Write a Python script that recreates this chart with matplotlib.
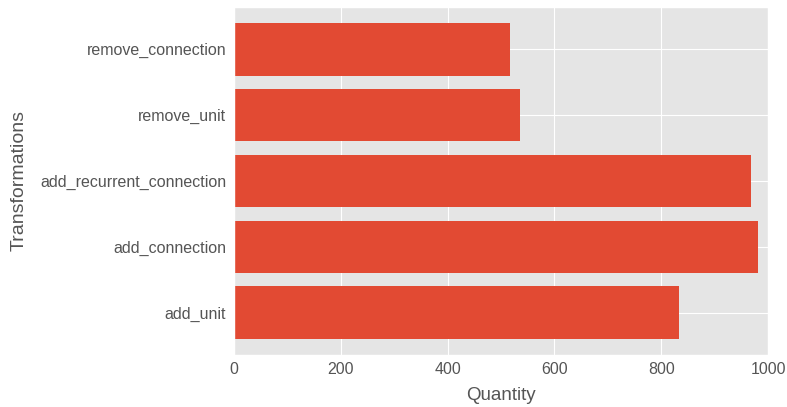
import matplotlib
matplotlib.use("Agg")
import matplotlib.pyplot as plt

plt.style.use("ggplot")
plt.rcParams["font.family"] = ["Liberation Sans", "DejaVu Sans"]

transformations = ["add_unit", "add_connection", "add_recurrent_connection",
                   "remove_unit", "remove_connection"]
quantities = [834, 981, 969, 536, 516]

fig = plt.figure(figsize=(7.87, 4.07), dpi=100)
ax = fig.add_axes([0.2973, 0.1278, 0.6786, 0.855])

ax.barh(transformations, quantities)
ax.set_xlim(0, 1000)
ax.set_xlabel("Quantity", fontsize=13.5, labelpad=7)
ax.set_ylabel("Transformations", fontsize=14)
ax.yaxis.set_label_coords(-0.386, 0.5)
ax.tick_params(axis="x", length=0, labelsize=11.5, pad=5)
ax.tick_params(axis="y", length=0, labelsize=11.5, pad=5.5)

fig.savefig("out.png", dpi=100)
